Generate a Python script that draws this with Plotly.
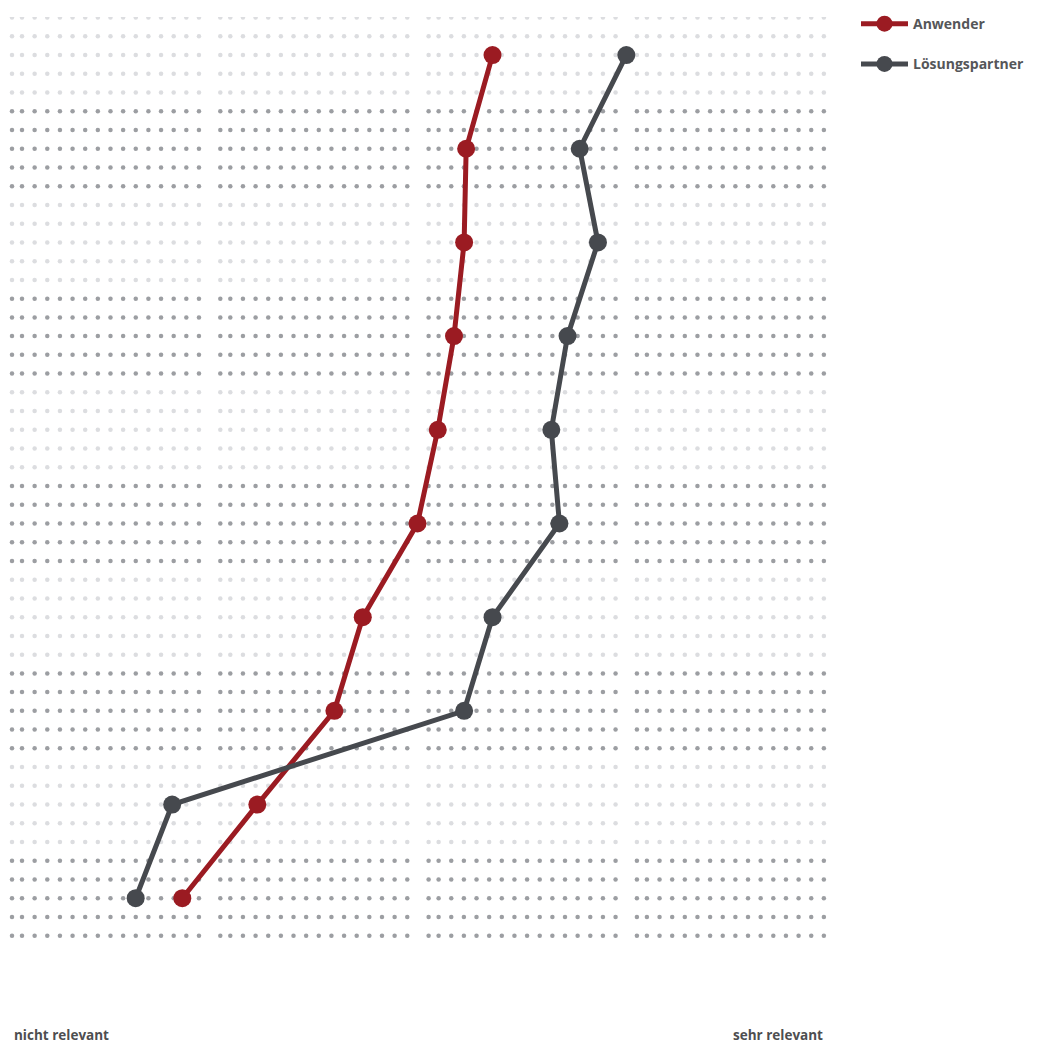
import plotly.graph_objects as go

# ---- data ----
items = list(range(10))                       # 10 items, top to bottom
anwender = [3.37, 3.24, 3.23, 3.18, 3.10, 3.00, 2.73, 2.59, 2.21, 1.84]
loesungspartner = [4.03, 3.80, 3.89, 3.74, 3.66, 3.70, 3.37, 3.23, 1.79, 1.61]
series_names = ["Anwender", "Lösungspartner"]
axis_labels = ["nicht relevant", "sehr relevant"]

RED = "#9b1b22"
GREY = "#46494e"
DOT_DARK = "#9c9ea2"
DOT_LIGHT = "#dcdde0"

W, H = 1043, 1042
OFF = 8  # page body margin
x_lo, x_hi = 1.0, 5.0
px_per_x = (823 - 12) / (x_hi - x_lo)
left_px = 12 - OFF
x_range = [x_lo - left_px / px_per_x, x_lo + (W - left_px) / px_per_x]
px_per_y = 94.5
top_px = 46.4 - OFF
y_range = [(H - top_px) / px_per_y, -top_px / px_per_y]

# ---- dotted background: 4 blocks per row, 5 rows per item band ----
block_period = 208.3 / px_per_x
first_gap = 10 / px_per_x
step = 12.64 / px_per_x
xs_row = []
for b in range(4):
    s = x_lo + b * block_period
    xs_row.append(s)
    for i in range(15):
        xs_row.append(s + first_gap + i * step)

dark_x, dark_y, light_x, light_y = [], [], [], []
for band in range(len(items)):
    for r in range(5):
        yy = band + (r - 2) / 5
        for xx in xs_row:
            if band % 2 == 1:
                dark_x.append(xx); dark_y.append(yy)
            else:
                light_x.append(xx); light_y.append(yy)

fig = go.Figure()
fig.add_trace(go.Scatter(x=light_x, y=light_y, mode="markers",
                         marker=dict(size=4.5, color=DOT_LIGHT),
                         hoverinfo="skip", showlegend=False))
fig.add_trace(go.Scatter(x=dark_x, y=dark_y, mode="markers",
                         marker=dict(size=4.5, color=DOT_DARK),
                         hoverinfo="skip", showlegend=False))

for name, vals, col in [(series_names[0], anwender, RED),
                        (series_names[1], loesungspartner, GREY)]:
    fig.add_trace(go.Scatter(x=vals, y=items, mode="lines+markers", name=name,
                             legendgroup=name,
                             line=dict(color=col, width=5),
                             marker=dict(size=18, color=col)))

label_font = dict(family="Open Sans", size=13.5, color="#4d4e50", weight="bold")
fig.update_layout(
    width=W, height=H,
    margin=dict(l=0, r=0, t=0, b=0),
    paper_bgcolor="white", plot_bgcolor="white",
    xaxis=dict(range=x_range, visible=False, fixedrange=True),
    yaxis=dict(range=y_range, visible=False, fixedrange=True),
    showlegend=True,
    legend=dict(x=(856 - OFF) / W, y=1 + 9 / H, xanchor="left", yanchor="top",
                font=dict(family="Open Sans", size=14, color="#555659", weight="bold"),
                tracegroupgap=19, itemwidth=47, bgcolor="rgba(0,0,0,0)"),
    font=dict(family="Open Sans"),
    annotations=[
        dict(text=axis_labels[0], xref="paper", yref="paper",
             x=(12 - OFF) / W, y=1 - (1034.5 - OFF) / H, xanchor="left", yanchor="middle",
             showarrow=False, font=label_font),
        dict(text=axis_labels[1], xref="paper", yref="paper",
             x=(825 - OFF) / W, y=1 - (1034.5 - OFF) / H, xanchor="right", yanchor="middle",
             showarrow=False, font=label_font),
    ],
)

fig.write_html("out.html")
